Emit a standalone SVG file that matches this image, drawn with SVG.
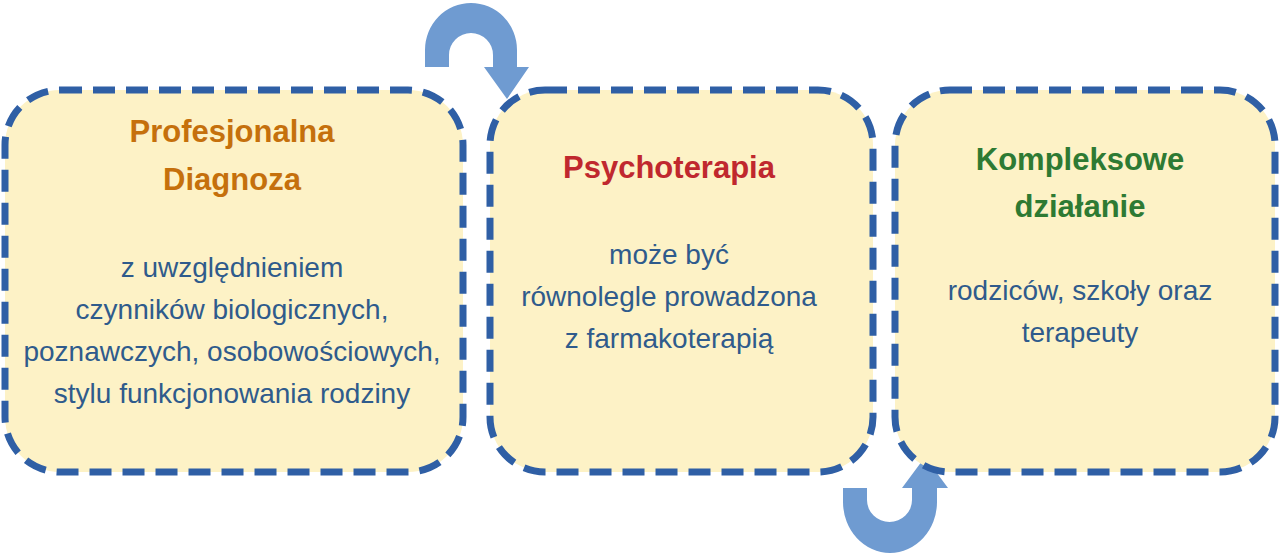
<svg xmlns="http://www.w3.org/2000/svg" width="1280" height="557" viewBox="0 0 1280 557">
<style>
.box{fill:#fdf2c6;stroke:#2f5fa5;stroke-width:7;stroke-dasharray:22 11}
.t{font-family:"Liberation Sans",Arial,sans-serif;font-weight:bold;font-size:31px;text-anchor:middle}
.b{font-family:"Liberation Sans",Arial,sans-serif;font-size:28px;fill:#2f5b8c;text-anchor:middle}
.arr{fill:#6f9bd1}
</style>
<g id="connectors">
<path class="arr" d="M425,67 L425,50 A46,47 0 0 1 517,50 L517,67 L529,67 L507,99 L484,67 L493,67 L493,55 A22,22 0 0 0 449,55 L449,67 Z"/>
<path class="arr" d="M843,488 L843,502 A47,51 0 0 0 937,502 L937,488 L948,488 L925,457 L902,488 L912,488 L912,500 A22.5,22 0 0 1 867,500 L867,488 Z"/>
</g>
<g id="n1">
<rect class="box" x="5" y="90" width="458" height="382" rx="55"/>
<text class="t" fill="#c5700c" x="232" y="142">Profesjonalna</text>
<text class="t" fill="#c5700c" x="232" y="190">Diagnoza</text>
<text class="b" x="232" y="277">z uwzględnieniem</text>
<text class="b" x="232" y="319">czynników biologicznych,</text>
<text class="b" x="232" y="361">poznawczych, osobowościowych,</text>
<text class="b" x="232" y="403">stylu funkcjonowania rodziny</text>
</g>
<g id="n2">
<rect class="box" x="490" y="90" width="383" height="382" rx="55"/>
<text class="t" fill="#c0282e" x="669" y="178">Psychoterapia</text>
<text class="b" x="669" y="264">może być</text>
<text class="b" x="669" y="306">równolegle prowadzona</text>
<text class="b" x="669" y="348">z farmakoterapią</text>
</g>
<g id="n3">
<rect class="box" x="895" y="90" width="380" height="382" rx="55"/>
<text class="t" fill="#2e7a33" x="1080" y="170">Kompleksowe</text>
<text class="t" fill="#2e7a33" x="1080" y="217">działanie</text>
<text class="b" x="1080" y="300">rodziców, szkoły oraz</text>
<text class="b" x="1080" y="342">terapeuty</text>
</g>
</svg>
